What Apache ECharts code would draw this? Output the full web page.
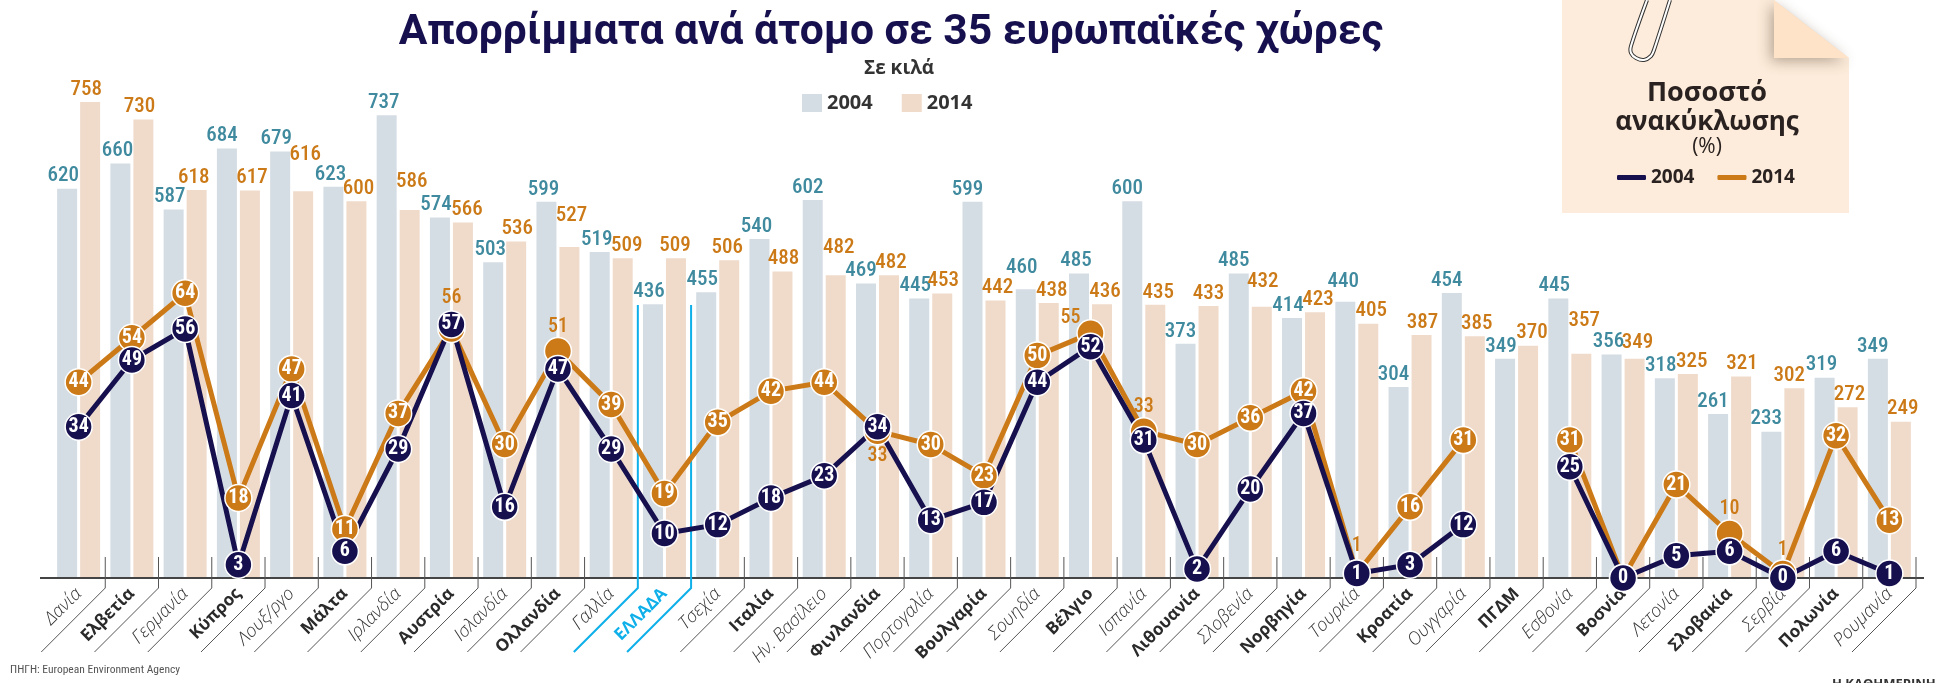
<!DOCTYPE html>
<html>
<head>
<meta charset="utf-8">
<style>
  html, body { margin: 0; padding: 0; background: #fff; }
  #chart { width: 1945px; height: 683px; }
</style>
<script src="https://cdn.jsdelivr.net/npm/echarts@6/dist/echarts.min.js"></script>
</head>
<body>
<div id="chart"></div>
<script>
const countries = ['Δανία', 'Ελβετία', 'Γερμανία', 'Κύπρος', 'Λουξ/ργο', 'Μάλτα', 'Ιρλανδία', 'Αυστρία', 'Ισλανδία', 'Ολλανδία', 'Γαλλία', 'ΕΛΛΑΔΑ', 'Τσεχία', 'Ιταλία', 'Ην. Βασίλειο', 'Φινλανδία', 'Πορτογαλία', 'Βουλγαρία', 'Σουηδία', 'Βέλγιο', 'Ισπανία', 'Λιθουανία', 'Σλοβενία', 'Νορβηγία', 'Τουρκία', 'Κροατία', 'Ουγγαρία', 'ΠΓΔΜ', 'Εσθονία', 'Βοσνία', 'Λετονία', 'Σλοβακία', 'Σερβία', 'Πολωνία', 'Ρουμανία']
const boldCountries = ['Ελβετία', 'Κύπρος', 'Μάλτα', 'Αυστρία', 'Ολλανδία', 'Ιταλία', 'Φινλανδία', 'Βουλγαρία', 'Βέλγιο', 'Λιθουανία', 'Νορβηγία', 'Κροατία', 'ΠΓΔΜ', 'Βοσνία', 'Σλοβακία', 'Πολωνία']

const waste2004 = [620, 660, 587, 684, 679, 623, 737, 574, 503, 599, 519, 436, 455, 540, 602, 469, 445, 599, 460, 485, 600, 373, 485, 414, 440, 304, 454, 349, 445, 356, 318, 261, 233, 319, 349]
const waste2014 = [758, 730, 618, 617, 616, 600, 586, 566, 536, 527, 509, 509, 506, 488, 482, 482, 453, 442, 438, 436, 435, 433, 432, 423, 405, 387, 385, 370, 357, 349, 325, 321, 302, 272, 249]
const recycling2004 = [34, 49, 56, 3, 41, 6, 29, 57, 16, 47, 29, 10, 12, 18, 23, 34, 13, 17, 44, 52, 31, 2, 20, 37, 1, 3, 12, null, 25, 0, 5, 6, 0, 6, 1]
const recycling2014 = [44, 54, 64, 18, 47, 11, 37, 56, 30, 51, 39, 19, 35, 42, 44, 33, 30, 23, 50, 55, 33, 30, 36, 42, 1, 16, 31, null, 31, 0, 21, 10, 1, 32, 13]

const NAVY = '#17104f'
const ORANGE = '#cb7a17'
const SANS = '"Open Sans", "Noto Sans", sans-serif'

// hand placement of the bar labels, they dodge each other in the original
const nudgeX2004 = [-4, -3, -4, -5, -4, -3, -3, -4, -3, -3, -3, -4, -4, -3, -5, -5, -4, -5, -4, -3, -5, -5, -5, -4, -2, -5, -5, -4, -4, -3, -4, -5, -5, -3, -5]
const nudgeX2014 = [-4, -4, -3, 2, 2, 2, 2, 4, 1, 2, 4, -1, -2, 1, 3, 2, 1, 2, 3, 3, 3, 0, 1, 3, 3, 1, 2, 4, 3, 3, 4, 1, -5, 2, 2]
const raised2004 = { 'Σουηδία': 9, 'Τουρκία': 7 }
const raised2014 = { 'Λουξ/ργο': 24, 'Ιρλανδία': 16, 'Ολλανδία': 19, 'Ην. Βασίλειο': 15, 'Σλοβενία': 12, 'Εσθονία': 21, 'Βοσνία': 4 }
// 2014 rates hidden behind the navy disc: label moved out of the circle
const movedRates = {
  'Αυστρία': [0, -31], 'Ολλανδία': [0, -24], 'Φινλανδία': [0, 25], 'Βέλγιο': [-20, -15],
  'Ισπανία': [0, -24], 'Τουρκία': [0, -28], 'Σλοβακία': [0, -25], 'Σερβία': [0, -24]
}

const chart = echarts.init(document.getElementById('chart'))

const rate2014Data = recycling2014.map((v, i) => {
  const name = countries[i]
  if (name === 'Βοσνία') return { value: v, label: { show: false } }
  if (!movedRates[name]) return v
  return {
    value: v,
    label: { color: ORANGE, fontSize: 20, fontWeight: 500, offset: movedRates[name] }
  }
})

const barData = (values, nudgeX, raised) => values.map((v, i) => ({
  value: v,
  label: { offset: [nudgeX[i], -(raised[countries[i]] || 0)] }
}))

const barSeries = (name, values, nudgeX, raised, fill, color) => ({
  name,
  type: 'bar',
  data: barData(values, nudgeX, raised),
  barWidth: 20,
  barGap: '15%',
  itemStyle: { color: fill },
  label: {
    show: true,
    position: 'top',
    distance: 2,
    color,
    fontStyle: 'condensed',
    fontFamily: 'Roboto',
    fontWeight: 500,
    fontSize: 21
  }
})

// the strokes go below every disc, so lines and discs are separate series
const rateLine = (name, values, color, z) => ({
  name,
  type: 'line',
  yAxisIndex: 1,
  z,
  data: values,
  symbol: 'none',
  connectNulls: false,
  lineStyle: { color, width: 5 },
  itemStyle: { color },
  label: { show: false }
})

const rateDiscs = (name, data, color, z) => ({
  name,
  type: 'line',
  yAxisIndex: 1,
  z,
  data,
  connectNulls: false,
  showAllSymbol: true,
  symbol: 'circle',
  symbolSize: 27,
  lineStyle: { opacity: 0 },
  itemStyle: { color, borderColor: '#fff', borderWidth: 1.5 },
  label: {
    show: true,
    position: 'inside',
    color: '#fff',
    fontStyle: 'condensed',
    fontFamily: 'Roboto',
    fontWeight: 'bold',
    fontSize: 20
  }
})

// slanted separators under the axis, taken from the category band
const renderSeparator = (params, api) => {
  const idx = api.value(0)
  const band = api.size([1, 0])[0]
  const base = api.coord([idx, 0])
  const x = base[0] + band / 2
  const y = base[1]
  const greek = idx === 10 || idx === 11
  return {
    type: 'polyline',
    silent: true,
    shape: {
      points: [
        [x, greek ? y - 273 : y - 21],
        [x, y + 10],
        [x - 64, y + 74]
      ]
    },
    style: {
      fill: null,
      stroke: greek ? '#0fb0ea' : '#555',
      lineWidth: greek ? 2 : 1
    }
  }
}

const clipPoints = [[1647, 0], [1631, 46], [1631, 53], [1636, 58], [1644, 60], [1651, 56], [1654, 50], [1670, 0]]

chart.setOption({
  animation: false,
  backgroundColor: '#fff',
  title: [
    {
      text: 'Απορρίμματα ανά άτομο σε 35 ευρωπαϊκές χώρες',
      left: 886, top: 7, textAlign: 'center',
      textStyle: { fontFamily: 'Roboto, sans-serif', fontSize: 42.6, fontWeight: 'bold', color: NAVY }
    },
    {
      text: 'Σε κιλά',
      left: 894, top: 54, textAlign: 'center',
      textStyle: { fontFamily: SANS, fontSize: 19, fontWeight: 'bold', color: '#333' }
    },
    {
      text: 'ΠΗΓΗ: European Environment Agency',
      left: 5, top: 659,
      textStyle: { fontFamily: 'Roboto', fontStyle: 'condensed', fontSize: 11.5, fontWeight: 'normal', color: '#555' }
    },
    {
      text: 'Η ΚΑΘΗΜΕΡΙΝΗ',
      left: 1827, top: 673,
      textStyle: { fontFamily: SANS, fontSize: 13, fontWeight: 'bold', color: '#333' }
    }
  ],
  legend: [
    {
      data: ['Απορρίμματα 2004', 'Απορρίμματα 2014'],
      left: 802, top: 93, padding: 0,
      icon: 'rect', itemWidth: 20, itemHeight: 18, itemGap: 29,
      formatter: name => name.slice(-4),
      selectedMode: false,
      textStyle: { fontFamily: SANS, fontSize: 20, fontWeight: 'bold', color: '#333' }
    },
    {
      data: ['Ανακύκλωση 2004', 'Ανακύκλωση 2014'],
      left: 1617, top: 168, padding: 0,
      icon: 'roundRect', itemWidth: 29, itemHeight: 5, itemGap: 23,
      formatter: name => name.slice(-4),
      selectedMode: false,
      itemStyle: { borderWidth: 0 },
      textStyle: { fontFamily: SANS, fontSize: 19, fontWeight: 'bold', color: '#2a2220' }
    }
  ],
  grid: { left: 52, right: 29, top: 102, bottom: 105 },
  xAxis: {
    type: 'category',
    data: countries,
    axisLine: { show: false },
    axisTick: { show: false },
    axisLabel: {
      interval: 0,
      rotate: 45,
      margin: 13,
      formatter: name => {
        if (name === 'ΕΛΛΑΔΑ') return `{greek|${name}}`
        return boldCountries.includes(name) ? `{bold|${name}}` : `{plain|${name}}`
      },
      rich: {
        plain: { fontFamily: SANS, fontSize: 18, fontStyle: 'italic', fontWeight: 300, color: '#333' },
        bold: { fontFamily: SANS, fontSize: 17, fontWeight: 'bold', color: '#2a2a2a' },
        greek: { fontFamily: SANS, fontSize: 17, fontWeight: 'bold', color: '#0fb0ea' }
      }
    }
  },
  yAxis: [
    { type: 'value', min: 0, max: 758, show: false },
    { type: 'value', min: 0, max: 107, show: false }
  ],
  graphic: [
    // baseline, a bit longer than the plot
    { type: 'line', z: 3, shape: { x1: 40, y1: 578, x2: 1924, y2: 578 }, style: { stroke: '#444', lineWidth: 2 } },
    // note panel
    { type: 'polygon', shape: { points: [[1562, 0], [1774, 0], [1849, 58], [1849, 213], [1562, 213]] }, style: { fill: '#fdecdb' } },
    { type: 'polygon', shape: { points: [[1774, 0], [1849, 58], [1774, 58]] }, style: { fill: '#fee3c8', shadowBlur: 14, shadowColor: 'rgba(90,70,50,0.45)', shadowOffsetX: -3, shadowOffsetY: 3 } },
    // paper clip
    { type: 'polyline', shape: { points: clipPoints, smooth: 0.3 }, style: { fill: null, stroke: '#333', lineWidth: 4 } },
    { type: 'polyline', z: 1, shape: { points: clipPoints, smooth: 0.3 }, style: { fill: null, stroke: '#fff', lineWidth: 2 } },
    { type: 'text', style: { text: 'Ποσοστό', x: 1707, y: 93, align: 'center', verticalAlign: 'middle', fontFamily: SANS, fontSize: 27, fontWeight: 'bold', fill: '#2a2220' } },
    { type: 'text', style: { text: 'ανακύκλωσης', x: 1707, y: 123, align: 'center', verticalAlign: 'middle', fontFamily: SANS, fontSize: 26, fontWeight: 'bold', fill: '#2a2220' } },
    { type: 'text', style: { text: '(%)', x: 1707, y: 147, align: 'center', verticalAlign: 'middle', fontFamily: SANS, fontSize: 21, fill: '#2a2220' } }
  ],
  series: [
    barSeries('Απορρίμματα 2004', waste2004, nudgeX2004, raised2004, '#d4dde4', '#3f8a9e'),
    barSeries('Απορρίμματα 2014', waste2014, nudgeX2014, raised2014, '#f0dbcb', ORANGE),
    {
      type: 'custom',
      silent: true,
      z: 3,
      clip: false,
      data: countries.map((_, i) => [i, 0]),
      encode: { x: 0, y: 1 },
      renderItem: renderSeparator
    },
    rateLine('Ανακύκλωση 2014', recycling2014, ORANGE, 4),
    rateLine('Ανακύκλωση 2004', recycling2004, NAVY, 5),
    rateDiscs('Ανακύκλωση 2014', rate2014Data, ORANGE, 6),
    rateDiscs('Ανακύκλωση 2004', recycling2004, NAVY, 7)
  ]
})

window.addEventListener('resize', () => chart.resize())
</script>
</body>
</html>
